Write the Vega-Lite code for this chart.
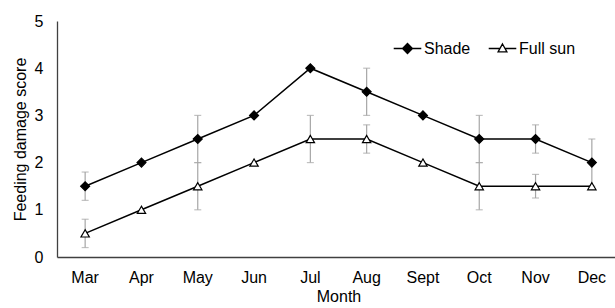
{
  "$schema": "https://vega.github.io/schema/vega-lite/v6.json",
  "autosize": {"type": "none"},
  "padding": {"left": 57, "top": 21, "right": -5, "bottom": 51},
  "width": 563,
  "height": 236,
  "background": "white",
  "config": {
    "view": {"stroke": null},
    "font": "Liberation Sans",
    "axis": {"labelFont": "Liberation Sans", "titleFont": "Liberation Sans", "labelColor": "#000000", "titleColor": "#000000", "titleFontWeight": "normal", "grid": false, "ticks": false, "domainColor": "#404040", "domainWidth": 1.3},
    "legend": {"labelFont": "Liberation Sans", "labelFontSize": 16, "labelColor": "#000000", "title": null, "symbolSize": 760, "symbolStrokeColor": "#000000", "symbolStrokeWidth": 1.3, "labelOffset": 2}
  },
  "data": {"values": [
    {"month": "Mar", "series": "Shade", "value": 1.5, "lo": 1.2, "hi": 1.8},
    {"month": "Apr", "series": "Shade", "value": 2.0, "lo": null, "hi": null},
    {"month": "May", "series": "Shade", "value": 2.5, "lo": 2.0, "hi": 3.0},
    {"month": "Jun", "series": "Shade", "value": 3.0, "lo": null, "hi": null},
    {"month": "Jul", "series": "Shade", "value": 4.0, "lo": null, "hi": null},
    {"month": "Aug", "series": "Shade", "value": 3.5, "lo": 3.0, "hi": 4.0},
    {"month": "Sept", "series": "Shade", "value": 3.0, "lo": null, "hi": null},
    {"month": "Oct", "series": "Shade", "value": 2.5, "lo": 2.0, "hi": 3.0},
    {"month": "Nov", "series": "Shade", "value": 2.5, "lo": 2.2, "hi": 2.8},
    {"month": "Dec", "series": "Shade", "value": 2.0, "lo": 1.5, "hi": 2.5},
    {"month": "Mar", "series": "Full sun", "value": 0.5, "lo": 0.2, "hi": 0.8},
    {"month": "Apr", "series": "Full sun", "value": 1.0, "lo": null, "hi": null},
    {"month": "May", "series": "Full sun", "value": 1.5, "lo": 1.0, "hi": 2.0},
    {"month": "Jun", "series": "Full sun", "value": 2.0, "lo": null, "hi": null},
    {"month": "Jul", "series": "Full sun", "value": 2.5, "lo": 2.0, "hi": 3.0},
    {"month": "Aug", "series": "Full sun", "value": 2.5, "lo": 2.2, "hi": 2.8},
    {"month": "Sept", "series": "Full sun", "value": 2.0, "lo": null, "hi": null},
    {"month": "Oct", "series": "Full sun", "value": 1.5, "lo": 1.0, "hi": 2.0},
    {"month": "Nov", "series": "Full sun", "value": 1.5, "lo": 1.25, "hi": 1.75},
    {"month": "Dec", "series": "Full sun", "value": 1.5, "lo": null, "hi": null}
  ]},
  "encoding": {
    "x": {"field": "month", "type": "nominal", "sort": ["Mar","Apr","May","Jun","Jul","Aug","Sept","Oct","Nov","Dec"],
      "scale": {"type": "band", "paddingInner": 0, "paddingOuter": 0},
      "axis": {"title": "Month", "labelAngle": 0, "labelFontSize": 16, "titleFontSize": 16, "labelPadding": 12, "titlePadding": 3}},
    "y": {"type": "quantitative"}
  },
  "layer": [
    {
      "transform": [{"filter": "datum.lo != null"}],
      "mark": {"type": "errorbar", "ticks": {"size": 7, "color": "#a6a6a6", "thickness": 1.2}, "rule": {"color": "#a6a6a6", "strokeWidth": 1.2}},
      "encoding": {
        "y": {"field": "lo", "type": "quantitative", "scale": {"domain": [0, 5]}, "axis": {"title": "Feeding damage score", "values": [0,1,2,3,4,5], "labelFontSize": 16, "titleFontSize": 16, "labelPadding": 14, "titlePadding": 6}},
        "y2": {"field": "hi"},
        "detail": {"field": "series"}
      }
    },
    {
      "mark": {"type": "line", "color": "#000000", "strokeWidth": 1.5},
      "encoding": {
        "y": {"field": "value", "type": "quantitative"},
        "detail": {"field": "series"}
      }
    },
    {
      "transform": [{"filter": "datum.series === 'Shade'"}],
      "mark": {"type": "point", "shape": "diamond", "opacity": 1, "strokeWidth": 1.2, "stroke": "#000000", "size": 80},
      "encoding": {
        "y": {"field": "value", "type": "quantitative"},
        "fill": {"field": "series", "type": "nominal", "scale": {"domain": ["Shade"], "range": ["#000000"]},
          "legend": {"orient": "none", "legendX": 336, "legendY": 13, "symbolType": "M-1,0H1M0,-0.36L0.36,0L0,0.36L-0.36,0Z", "symbolFillColor": "#000000"}}
      }
    },
    {
      "transform": [{"filter": "datum.series === 'Full sun'"}],
      "mark": {"type": "point", "shape": "triangle-up", "opacity": 1, "strokeWidth": 1.2, "stroke": "#000000", "size": 70},
      "encoding": {
        "y": {"field": "value", "type": "quantitative"},
        "fill": {"field": "series", "type": "nominal", "scale": {"domain": ["Full sun"], "range": ["#ffffff"]},
          "legend": {"orient": "none", "legendX": 431, "legendY": 13, "symbolType": "M-1,0H-0.2M0.2,0H1M0,-0.33L0.32,0.24L-0.32,0.24Z", "symbolFillColor": "#ffffff"}}
      }
    }
  ],
  "resolve": {"scale": {"fill": "independent"}, "legend": {"fill": "independent"}}
}
